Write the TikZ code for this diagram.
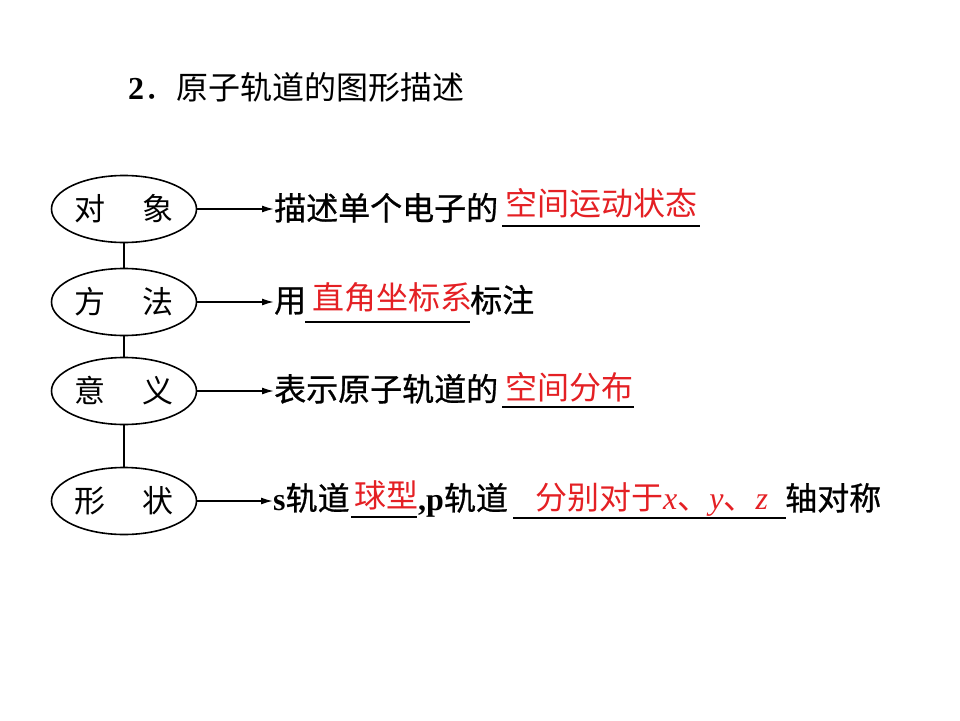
\documentclass[tikz,border=0pt]{standalone}
\usepackage{fontspec}
\setmainfont{Noto Sans CJK SC}
\newfontfamily\cjkheavy[FakeBold=0.8]{Noto Sans CJK SC}
\newfontfamily\tms{Liberation Serif}
\usetikzlibrary{shapes.geometric,arrows.meta}
\definecolor{ansred}{RGB}{228,32,36}
\tikzset{
  topic/.style={draw,ellipse,line width=1.6pt,minimum width=145pt,minimum height=67pt,
    inner sep=0pt,font=\fontsize{31}{31}\selectfont},
  txt/.style={anchor=base west,inner sep=0pt,font=\fontsize{32}{32}\selectfont\cjkheavy},
  ans/.style={anchor=base west,inner sep=0pt,font=\fontsize{32}{32}\selectfont,text=ansred},
  blank/.style={line width=1.4pt},
}
\begin{document}
\begin{tikzpicture}[x=1pt,y=-1pt,>={Latex[length=12pt,width=7pt]}]
\useasboundingbox (0,0) rectangle (960,720);
\node[anchor=base west,inner sep=0pt,font=\fontsize{32}{32}\selectfont] (title) at (128,99) {{\tms\bfseries 2}．原子轨道的图形描述};

\node[topic] (dx) at (124,209) {对\hspace{38pt}象};
\node[topic] (ff) at (124,302) {方\hspace{38pt}法};
\node[topic] (yy) at (124,391) {意\hspace{38pt}义};
\node[topic] (xz) at (124,501) {形\hspace{38pt}状};
\draw[line width=1.6pt] (dx)--(ff) (ff)--(yy) (yy)--(xz);

% row 1
\node[txt] (d1) at (274,220) {描述单个电子的};
\node[ans] (d2) at (505,215) {空间运动状态};
\draw[blank] (502,226)--(700,226);
% row 2
\node[txt] (f1) at (274,312) {用};
\node[ans] (f2) at (312,309) {直角坐标系};
\node[txt] (f3) at (470,312) {标注};
\draw[line width=2.4pt] (305,322)--(470,322);
% row 3
\node[txt] (y1) at (274,401) {表示原子轨道的};
\node[ans] (y2) at (505,399) {空间分布};
\draw[blank] (502,407)--(634,407);
% row 4
\node[txt] (x1) at (273,510) {{\tms\bfseries s}轨道};
\node[ans] (x2) at (354,507) {球型};
\node[txt] (x3) at (418,510) {{\tms\bfseries ,p}轨道};
\node[ans] (x4) at (535,509) {分别对于{\tms\itshape x}、{\tms\itshape y}、{\tms\itshape z}};
\node[txt] (x5) at (785,510) {轴对称};
\draw[line width=2pt] (351,517)--(417,517);
\draw[blank] (513,518)--(786,518);

\foreach \a/\b in {dx/d1,ff/f1,yy/y1,xz/x1}
{
\draw[->,line width=1.6pt] (\a.east)--(\a.east -| \b.west);
}
\end{tikzpicture}
\end{document}
